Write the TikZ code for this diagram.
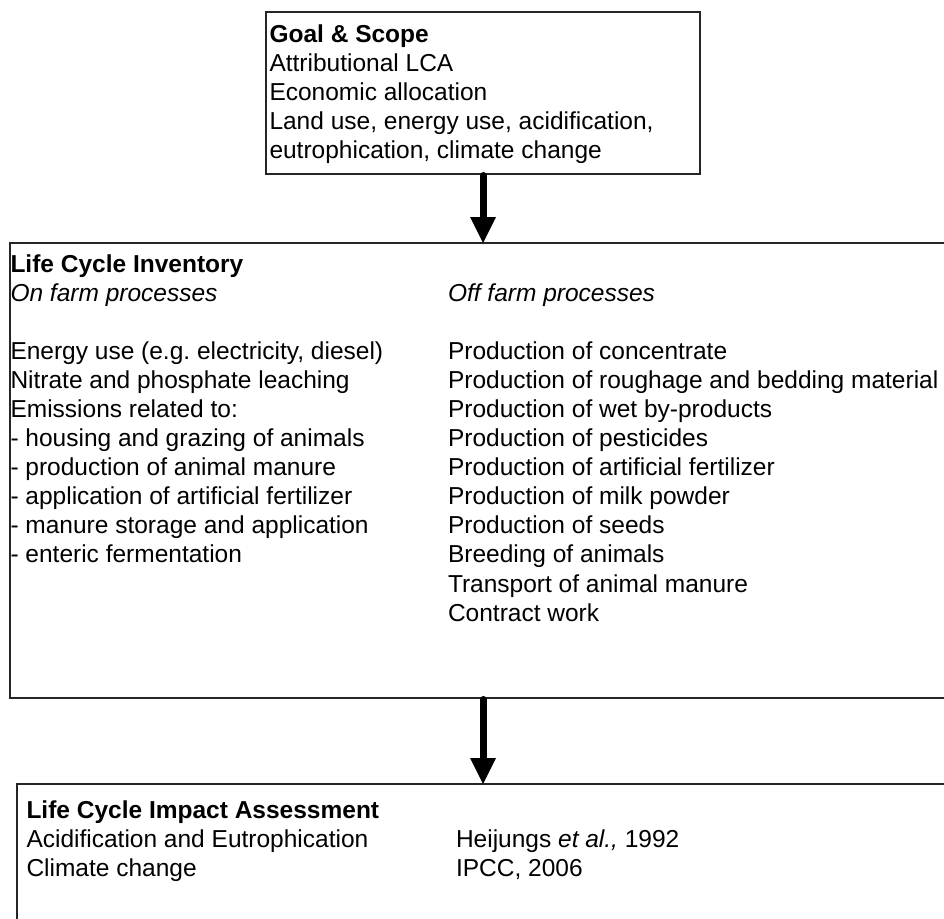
\documentclass[tikz,border=0pt]{standalone}
\usepackage{fontspec}
\setmainfont{Liberation Sans}
\usetikzlibrary{arrows.meta}
\frenchspacing
\begin{document}
\begin{tikzpicture}[x=1pt,y=-1pt,
  box/.style={draw=black!85, line width=1.3pt, rectangle, inner sep=0pt, outer sep=0pt},
  txt/.style={anchor=base west, inner sep=0pt, outer sep=0pt,
              font=\fontsize{24.5}{29.1}\selectfont},
  flow/.style={line width=7pt, line cap=round,
               -{Triangle[width=26pt,length=26pt,line width=0pt]}}
]
% page frame; the two lower boxes run past its right and bottom edges
\useasboundingbox (0,0) rectangle (944,918);
\fill[white] (0,0) rectangle (944,918);
\clip (0,0) rectangle (944,918);

% the three stages
\node[box, minimum width=434pt, minimum height=162pt] (gs)   at (483,93)    {};
\node[box, minimum width=946pt, minimum height=455pt] (lci)  at (483,470.5) {};
\node[box, minimum width=932pt, minimum height=216pt] (lcia) at (483,892)   {};

% Goal & Scope
\node[txt] (gs-text) at (269.5,42) {\begin{tabular}[t]{@{}l@{}}
  \textbf{Goal \& Scope}\\
  Attributional LCA\\
  Economic allocation\\
  Land use, energy use, acidification,\\
  eutrophication, climate change
\end{tabular}};

% Life Cycle Inventory
\node[txt] (lci-title) at (10.5,272) {\textbf{Life Cycle Inventory}};
\node[txt] (lci-on) at (10.5,301) {\begin{tabular}[t]{@{}l@{}}
  \textit{On farm processes}\\
  \\
  Energy use (e.g. electricity, diesel)\\
  Nitrate and phosphate leaching\\
  Emissions related to:\\
  - housing and grazing of animals\\
  - production of animal manure\\
  - application of artificial fertilizer\\
  - manure storage and application\\
  - enteric fermentation
\end{tabular}};
\node[txt] (lci-off) at (448,301) {\begin{tabular}[t]{@{}l@{}}
  \textit{Off farm processes}\\
  \\
  Production of concentrate\\
  Production of roughage and bedding material\\
  Production of wet by-products\\
  Production of pesticides\\
  Production of artificial fertilizer\\
  Production of milk powder\\
  Production of seeds\\
  Breeding of animals\\
  Transport of animal manure\\
  Contract work
\end{tabular}};

% Life Cycle Impact Assessment
\node[txt] (lcia-left) at (26.5,818) {\begin{tabular}[t]{@{}l@{}}
  \textbf{Life Cycle Impact Assessment}\\
  Acidification and Eutrophication\\
  Climate change
\end{tabular}};
\node[txt] (lcia-right) at (456,847) {\begin{tabular}[t]{@{}l@{}}
  Heijungs \textit{et al.,} 1992\\
  IPCC, 2006
\end{tabular}};

% flow between stages
\draw[flow, shorten <=1.5pt] (gs.south) -- (lci.north);
\draw[flow, shorten <=1.5pt] (lci.south) -- (lcia.north);
\end{tikzpicture}
\end{document}
